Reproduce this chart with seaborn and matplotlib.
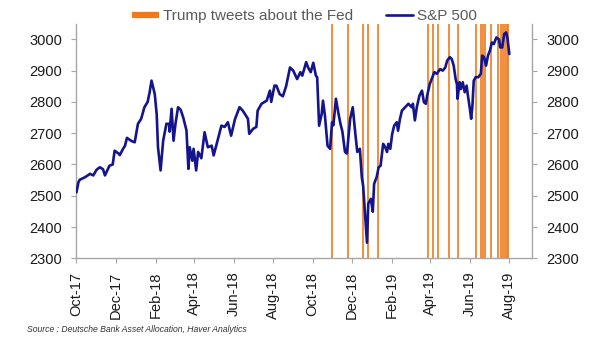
import matplotlib
matplotlib.use("Agg")
import matplotlib.pyplot as plt
import matplotlib.dates as mdates
from matplotlib.lines import Line2D
import seaborn as sns
import pandas as pd

# ---- data ----
sp_dates = [
    "2017-10-01", "2017-10-04", "2017-10-06", "2017-10-14", "2017-10-22", "2017-10-27",
    "2017-11-01", "2017-11-06", "2017-11-11", "2017-11-14", "2017-11-21", "2017-11-26",
    "2017-11-29", "2017-12-05", "2017-12-07", "2017-12-12", "2017-12-15", "2017-12-18",
    "2017-12-25", "2017-12-30", "2018-01-04", "2018-01-09", "2018-01-14", "2018-01-19",
    "2018-01-22", "2018-01-25", "2018-01-30", "2018-02-02", "2018-02-04", "2018-02-08",
    "2018-02-12", "2018-02-17", "2018-02-21", "2018-02-22", "2018-02-25", "2018-02-28",
    "2018-03-03", "2018-03-07", "2018-03-11", "2018-03-15", "2018-03-20", "2018-03-23",
    "2018-03-25", "2018-03-29", "2018-03-31", "2018-04-04", "2018-04-07", "2018-04-12",
    "2018-04-17", "2018-04-22", "2018-04-28", "2018-05-01", "2018-05-05", "2018-05-13",
    "2018-05-18", "2018-05-23", "2018-05-28", "2018-06-03", "2018-06-10", "2018-06-15",
    "2018-06-23", "2018-06-25", "2018-07-01", "2018-07-06", "2018-07-08", "2018-07-14",
    "2018-07-22", "2018-07-27", "2018-07-29", "2018-08-03", "2018-08-06", "2018-08-11",
    "2018-08-16", "2018-08-21", "2018-08-27", "2018-09-01", "2018-09-07", "2018-09-12",
    "2018-09-15", "2018-09-21", "2018-09-24", "2018-09-28", "2018-10-02", "2018-10-06",
    "2018-10-08", "2018-10-11", "2018-10-15", "2018-10-17", "2018-10-20", "2018-10-24",
    "2018-10-28", "2018-10-31", "2018-11-02", "2018-11-06", "2018-11-10", "2018-11-13",
    "2018-11-16", "2018-11-20", "2018-11-23", "2018-11-28", "2018-12-02", "2018-12-06",
    "2018-12-09", "2018-12-13", "2018-12-16", "2018-12-18", "2018-12-21", "2018-12-24",
    "2018-12-26", "2018-12-30", "2019-01-02", "2019-01-04", "2019-01-08", "2019-01-11",
    "2019-01-14", "2019-01-18", "2019-01-21", "2019-01-24", "2019-01-26", "2019-01-29",
    "2019-02-01", "2019-02-04", "2019-02-08", "2019-02-10", "2019-02-13", "2019-02-16",
    "2019-02-21", "2019-02-26", "2019-03-03", "2019-03-05", "2019-03-08", "2019-03-11",
    "2019-03-15", "2019-03-19", "2019-03-22", "2019-03-25", "2019-03-27", "2019-03-31",
    "2019-04-04", "2019-04-07", "2019-04-11", "2019-04-16", "2019-04-20", "2019-04-24",
    "2019-04-27", "2019-05-01", "2019-05-04", "2019-05-07", "2019-05-10", "2019-05-12",
    "2019-05-13", "2019-05-16", "2019-05-18", "2019-05-21", "2019-05-24", "2019-05-27",
    "2019-05-29", "2019-06-01", "2019-06-03", "2019-06-05", "2019-06-07", "2019-06-10",
    "2019-06-14", "2019-06-18", "2019-06-20", "2019-06-23", "2019-06-26", "2019-06-29",
    "2019-07-02", "2019-07-05", "2019-07-08", "2019-07-12", "2019-07-16", "2019-07-18",
    "2019-07-21", "2019-07-24", "2019-07-27", "2019-07-29", "2019-08-01",
]
sp_values = [
    2511, 2543, 2551, 2559, 2570, 2565,
    2583, 2591, 2585, 2565, 2596, 2600,
    2644, 2635, 2630, 2650, 2660, 2685,
    2675, 2671, 2730, 2746, 2783, 2800,
    2830, 2868, 2825, 2760, 2655, 2581,
    2676, 2730, 2730, 2705, 2778, 2676,
    2730, 2783, 2775, 2750, 2709, 2586,
    2655, 2612, 2650, 2581, 2640, 2620,
    2703, 2655, 2660, 2629, 2660, 2724,
    2720, 2735, 2692, 2745, 2783, 2772,
    2746, 2698, 2714, 2720, 2772, 2794,
    2804, 2836, 2800, 2852, 2852, 2825,
    2818, 2850, 2910, 2900, 2873, 2895,
    2884, 2927, 2910, 2895, 2925, 2884,
    2879, 2724, 2762, 2804, 2756, 2660,
    2650, 2735, 2725, 2810, 2762, 2730,
    2705, 2640, 2635, 2746, 2783, 2698,
    2640, 2650, 2559, 2533, 2443, 2350,
    2475, 2490, 2449, 2538, 2560, 2591,
    2596, 2666, 2656, 2640, 2666, 2650,
    2698, 2724, 2735, 2708, 2746, 2772,
    2783, 2794, 2783, 2794, 2741, 2783,
    2820, 2836, 2799, 2794, 2820, 2857,
    2879, 2895, 2890, 2905, 2900, 2910,
    2932, 2943, 2937, 2916, 2873, 2857,
    2810, 2863, 2841, 2863, 2831, 2852,
    2820, 2778, 2746, 2788, 2868, 2879,
    2879, 2890, 2948, 2943, 2916, 2948,
    2964, 2990, 2985, 3006, 3000, 2974,
    2974, 3017, 3022, 3006, 2953,
]
tweet_dates = [
    "2018-10-31", "2018-11-24", "2018-12-18", "2018-12-25", "2019-01-10",
    "2019-03-29", "2019-04-05", "2019-04-12", "2019-04-30", "2019-05-14",
    "2019-06-11", "2019-06-18", "2019-06-21", "2019-06-25", "2019-07-04",
    "2019-07-15", "2019-07-19", "2019-07-22", "2019-07-25", "2019-07-28",
    "2019-07-30",
]
y_ticks = [2300, 2400, 2500, 2600, 2700, 2800, 2900, 3000]
legend_labels = ["Trump tweets about the Fed", "S&P 500"]
source_text = "Source : Deutsche Bank Asset Allocation, Haver Analytics"

ORANGE = "#EF7A1E"
NAVY = "#14148C"
GRAY_AX = "#A6A6A6"

sns.set_style("white")
plt.rcParams["font.family"] = ["Liberation Sans", "DejaVu Sans"]

df = pd.DataFrame({"date": pd.to_datetime(sp_dates), "value": sp_values})

fig = plt.figure(figsize=(6.05, 3.41), dpi=100)
ax = fig.add_axes([0.1264, 0.2425, 0.8793 - 0.1264, 0.9305 - 0.2425])

for d in pd.to_datetime(tweet_dates):
    ax.axvline(d, color=ORANGE, lw=1.2, zorder=1)

sns.lineplot(data=df, x="date", y="value", ax=ax, color=NAVY, lw=1.9,
             zorder=3, legend=False)

ax.set_xlim(pd.Timestamp("2017-10-01"), pd.Timestamp("2019-09-05"))
ax.set_ylim(2300, 3050)
ax.set_yticks(y_ticks)
ax.xaxis.set_major_locator(mdates.MonthLocator(bymonth=[2, 4, 6, 8, 10, 12]))
ax.xaxis.set_major_formatter(mdates.DateFormatter("%b-%y"))
ax.set_xlabel("")
ax.set_ylabel("")

for s in ["left", "bottom", "right"]:
    ax.spines[s].set_visible(True)
    ax.spines[s].set_color(GRAY_AX)
    ax.spines[s].set_linewidth(1.0)
ax.spines["top"].set_visible(False)

ax.tick_params(axis="y", which="major", left=True, right=True,
               labelleft=True, labelright=True, length=3.5, width=0.8,
               color=GRAY_AX, labelsize=10.5, pad=7, labelcolor="#1a1a1a")
ax.tick_params(axis="x", which="major", bottom=True, length=3.5, width=0.8,
               color=GRAY_AX, labelsize=10.5, pad=6, labelcolor="#1a1a1a",
               labelrotation=90)

handles = [
    Line2D([0], [0], color=ORANGE, lw=4.5, solid_capstyle="butt"),
    Line2D([0], [0], color=NAVY, lw=1.9),
]
leg = fig.legend(handles, legend_labels, loc="center", bbox_to_anchor=(0.503, 0.952),
                 ncol=2, frameon=False, fontsize=11, handlelength=1.75,
                 handletextpad=0.25, columnspacing=2.2, borderaxespad=0)
for t in leg.get_texts():
    t.set_color("#595959")

fig.text(27 / 605, 1 - 330 / 341, source_text, fontsize=6.2, style="italic",
         color="#333333", va="center", ha="left")

fig.savefig("out.png", dpi=100)
